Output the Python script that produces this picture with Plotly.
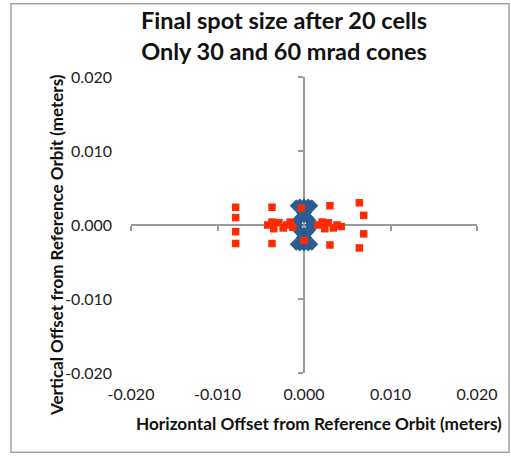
import plotly.graph_objects as go

# ---- data (meters) ----
tick_vals = [-0.02, -0.01, 0.0, 0.01, 0.02]
tick_text = ["-0.020", "-0.010", "0.000", "0.010", "0.020"]

blue_x = [-0.0009, -0.0005, 0.0000, 0.0005, 0.0009,
          -0.0009, -0.0005, 0.0000, 0.0005, 0.0009,
          0.0000, 0.0000, 0.0002, -0.0002, 0.0002, -0.0002,
          0.0008, 0.0007, 0.0004, 0.0000, -0.0004, -0.0007,
          -0.0008, -0.0007, -0.0004, 0.0000, 0.0004, 0.0007]
blue_y = [0.0026, 0.0027, 0.0027, 0.0027, 0.0026,
          -0.0026, -0.0027, -0.0027, -0.0027, -0.0026,
          0.0020, -0.0020, 0.0017, 0.0017, -0.0017, -0.0017,
          0.0000, 0.0006, 0.0010, 0.0012, 0.0010, 0.0006,
          0.0000, -0.0006, -0.0010, -0.0012, -0.0010, -0.0006]

red_x = [-0.0079, -0.0079, -0.0079, -0.0079,
         -0.0037, -0.0037,
         0.0030, 0.0030, 0.0064, 0.0064, 0.0069, 0.0069,
         -0.0042, -0.0037, -0.0035, -0.0029, -0.0024, -0.0020, -0.0016, -0.0013,
         0.0016, 0.0021, 0.0024, 0.0028, 0.0034, 0.0038, 0.0043,
         -0.0003, 0.0000]
red_y = [0.0024, 0.0010, -0.0009, -0.0025,
         0.0024, -0.0025,
         0.0026, -0.0027, 0.0030, -0.0031, 0.0013, -0.0012,
         0.0000, 0.0004, -0.0005, 0.0003, -0.0004, 0.0000, 0.0004, -0.0003,
         0.0000, 0.0004, -0.0005, 0.0003, -0.0004, 0.0000, -0.0002,
         0.0023, -0.0021]

FONT = "Lato"
AX_COL = "#9A9A9A"

fig = go.Figure()
fig.add_trace(go.Scatter(x=[], y=[], xaxis="x", yaxis="y", showlegend=False))
fig.add_trace(go.Scatter(x=blue_x, y=blue_y, mode="markers", xaxis="x2", yaxis="y2",
                         marker=dict(symbol="diamond", size=10, color="#2C5D92"),
                         showlegend=False))
fig.add_trace(go.Scatter(x=red_x, y=red_y, mode="markers", xaxis="x2", yaxis="y2",
                         marker=dict(symbol="square", size=7.5, color="#FF2A00"),
                         showlegend=False))

rng = [-0.02, 0.02]
fig.update_layout(
    width=511, height=456,
    margin=dict(l=131, r=34, t=76.5, b=82.5),
    paper_bgcolor="white", plot_bgcolor="white",
    font=dict(family=FONT, color="#1a1a1a"),
    title=dict(text="<b>Final spot size after 20 cells<br>Only 30 and 60 mrad cones</b>",
               font=dict(family=FONT, size=23.5, color="#111111"),
               xref="paper", x=(284 - 131) / 346, xanchor="center",
               yref="container", y=1 - 29 / 456, yanchor="middle"),
    xaxis=dict(range=rng, tickvals=tick_vals, ticktext=tick_text, showgrid=False,
               zeroline=False, showline=False, ticks="", ticklabelstandoff=10,
               tickfont=dict(size=16, family=FONT, color="#222222")),
    yaxis=dict(range=rng, tickvals=tick_vals, ticktext=tick_text, showgrid=False,
               zeroline=False, showline=False, ticks="", ticklabelstandoff=18,
               tickfont=dict(size=16, family=FONT, color="#222222")),
    xaxis2=dict(range=rng, overlaying="x", anchor="free", position=0.5, side="bottom",
                tickvals=tick_vals, showticklabels=False, showgrid=False, zeroline=False,
                showline=True, linecolor=AX_COL, linewidth=1.5, ticks="outside",
                ticklen=5, tickcolor=AX_COL, tickwidth=1.5, layer="below traces"),
    yaxis2=dict(range=rng, overlaying="y", anchor="free", position=0.5, side="left",
                tickvals=tick_vals, showticklabels=False, showgrid=False, zeroline=False,
                showline=True, linecolor=AX_COL, linewidth=1.5, ticks="outside",
                ticklen=5, tickcolor=AX_COL, tickwidth=1.5, layer="below traces"),
    annotations=[
        dict(text="<b>Horizontal Offset from Reference Orbit (meters)</b>",
             xref="paper", yref="paper", x=(319 - 131) / 346, y=(373.5 - 424) / 297,
             xanchor="center", yanchor="middle", showarrow=False,
             font=dict(family=FONT, size=17.2, color="#111111")),
        dict(text="<b>Vertical Offset from Reference Orbit (meters)</b>",
             xref="paper", yref="paper", x=(57 - 131) / 346, y=(373.5 - 245) / 297,
             xanchor="center", yanchor="middle", showarrow=False, textangle=-90,
             font=dict(family=FONT, size=17, color="#111111")),
    ],
    shapes=[dict(type="rect", xref="paper", yref="paper",
                 x0=(11 - 131) / 346, x1=(509 - 131) / 346,
                 y0=(373.5 - 453) / 297, y1=(373.5 - 3) / 297,
                 line=dict(color="#A0A0A0", width=1.5), fillcolor="rgba(0,0,0,0)")],
)

fig.write_html("out.html", config={"displayModeBar": False})
with open("out.html", "r", encoding="utf-8") as f:
    html = f.read()
html = html.replace("<body>", '<body style="margin:0;padding:0;">', 1)
with open("out.html", "w", encoding="utf-8") as f:
    f.write(html)
